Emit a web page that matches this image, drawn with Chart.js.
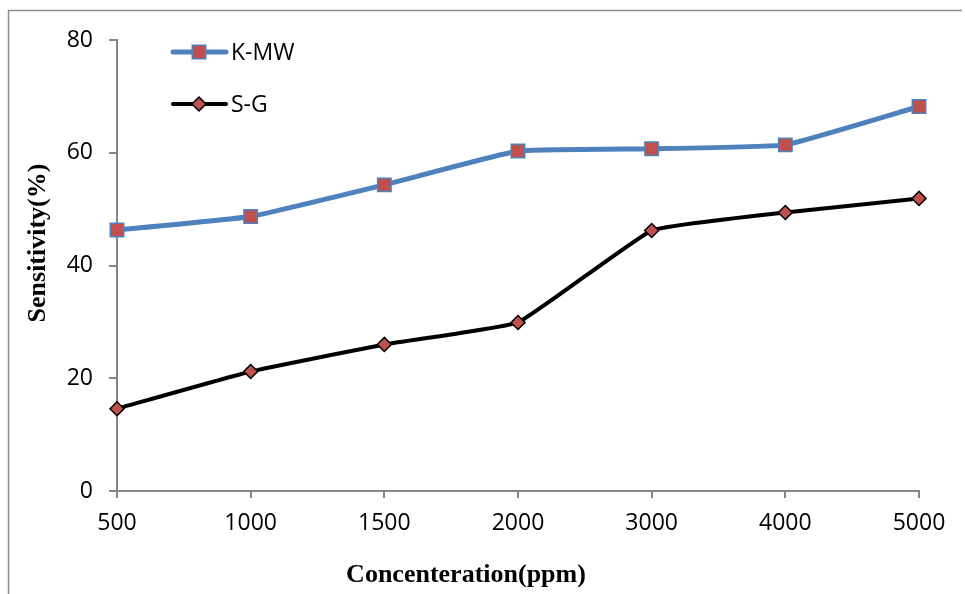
<!DOCTYPE html>
<html>
<head>
<meta charset="utf-8">
<script src="https://cdn.jsdelivr.net/npm/chart.js@4"></script>
<style>
  html, body { margin: 0; padding: 0; background: #fff; }
  #wrap { width: 965px; height: 594px; }
</style>
</head>
<body>
<div id="wrap"><canvas id="sensChart" width="965" height="594"></canvas></div>
<script>
// Daten
const concentrations = ['500', '1000', '1500', '2000', '3000', '4000', '5000'];
const kmwValues = [46.3, 48.7, 54.3, 60.3, 60.7, 61.4, 68.2];
const sgValues = [14.6, 21.2, 26.0, 29.9, 46.2, 49.4, 51.9];
const yTicks = [0, 20, 40, 60, 80];

const tickFont = { family: '"Open Sans", "Liberation Sans", sans-serif', size: 23 };
const axisGrey = '#868686';

// Rahmen, Achsentitel und Legende werden von Hand gezeichnet
const decorPlugin = {
    id: 'decor',
    afterDraw(chart) {
        const ctx = chart.ctx;
        ctx.save();
        // Rahmen oben und links
        ctx.strokeStyle = '#8c8c8c';
        ctx.lineWidth = 1.5;
        ctx.beginPath();
        ctx.moveTo(962, 10.5);
        ctx.lineTo(8.5, 10.5);
        ctx.lineTo(8.5, 594);
        ctx.stroke();

        // Achsentitel
        ctx.fillStyle = '#000';
        ctx.font = 'bold 26px "Liberation Serif", "Times New Roman", serif';
        ctx.textAlign = 'center';
        ctx.textBaseline = 'middle';
        ctx.fillText('Concenteration(ppm)', 466, 575);
        ctx.translate(38, 243);
        ctx.rotate(-Math.PI / 2);
        ctx.fillText('Sensitivity(%)', 0, 0);
        ctx.restore();

        // Legende
        ctx.save();
        const rows = [52, 104];
        chart.data.datasets.forEach((ds, i) => {
            const y = rows[i];
            ctx.strokeStyle = ds.borderColor;
            ctx.lineWidth = ds.borderWidth;
            ctx.lineCap = 'round';
            ctx.beginPath();
            ctx.moveTo(173, y);
            ctx.lineTo(226, y);
            ctx.stroke();
            ctx.fillStyle = ds.pointBackgroundColor;
            ctx.strokeStyle = ds.pointBorderColor;
            ctx.lineWidth = ds.pointBorderWidth;
            ctx.beginPath();
            if (ds.pointStyle === 'rect') {
                const r = ds.pointRadius * Math.SQRT1_2;
                ctx.rect(199 - r, y - r, 2 * r, 2 * r);
            } else {
                const r = ds.pointRadius;
                ctx.moveTo(199, y - r);
                ctx.lineTo(199 + r, y);
                ctx.lineTo(199, y + r);
                ctx.lineTo(199 - r, y);
                ctx.closePath();
            }
            ctx.fill();
            ctx.stroke();
            ctx.fillStyle = '#000';
            ctx.font = '23px "Open Sans", "Liberation Sans", sans-serif';
            ctx.textAlign = 'left';
            ctx.textBaseline = 'middle';
            ctx.fillText(ds.label, 231, y + 1);
        });
        ctx.restore();
    }
};

new Chart(document.getElementById('sensChart'), {
    type: 'line',
    data: {
        labels: concentrations,
        datasets: [{
            label: 'K-MW',
            data: kmwValues,
            borderColor: '#4F81BD',
            borderWidth: 5,
            tension: 0.1,
            pointStyle: 'rect',
            pointRadius: 9.5,
            pointBackgroundColor: '#C0504D',
            pointBorderColor: '#4F81BD',
            pointBorderWidth: 1.5
        }, {
            label: 'S-G',
            data: sgValues,
            borderColor: '#000000',
            borderWidth: 4,
            tension: 0.1,
            pointStyle: 'rectRot',
            pointRadius: 7,
            pointBackgroundColor: '#C0504D',
            pointBorderColor: '#000000',
            pointBorderWidth: 1.5
        }]
    },
    options: {
        responsive: false,
        animation: false,
        layout: { padding: { left: 10, top: 40, right: 46, bottom: 0 } },
        plugins: {
            legend: { display: false },
            tooltip: { enabled: false }
        },
        scales: {
            x: {
                offset: false,
                grid: {
                    drawOnChartArea: false,
                    color: axisGrey,
                    tickLength: 7,
                    lineWidth: 2
                },
                border: { color: axisGrey, width: 2 },
                ticks: { font: tickFont, color: '#000', padding: 12, maxRotation: 0 },
                afterFit(scale) { scale.height = 103; }
            },
            y: {
                min: 0,
                max: 80,
                afterBuildTicks(scale) {
                    scale.ticks = yTicks.map(v => ({ value: v }));
                },
                grid: {
                    drawOnChartArea: false,
                    color: axisGrey,
                    tickLength: 8,
                    lineWidth: 2
                },
                border: { color: axisGrey, width: 2 },
                ticks: { font: tickFont, color: '#000', padding: 16 },
                afterFit(scale) { scale.width = 107; }
            }
        }
    },
    plugins: [decorPlugin]
});
</script>
</body>
</html>
